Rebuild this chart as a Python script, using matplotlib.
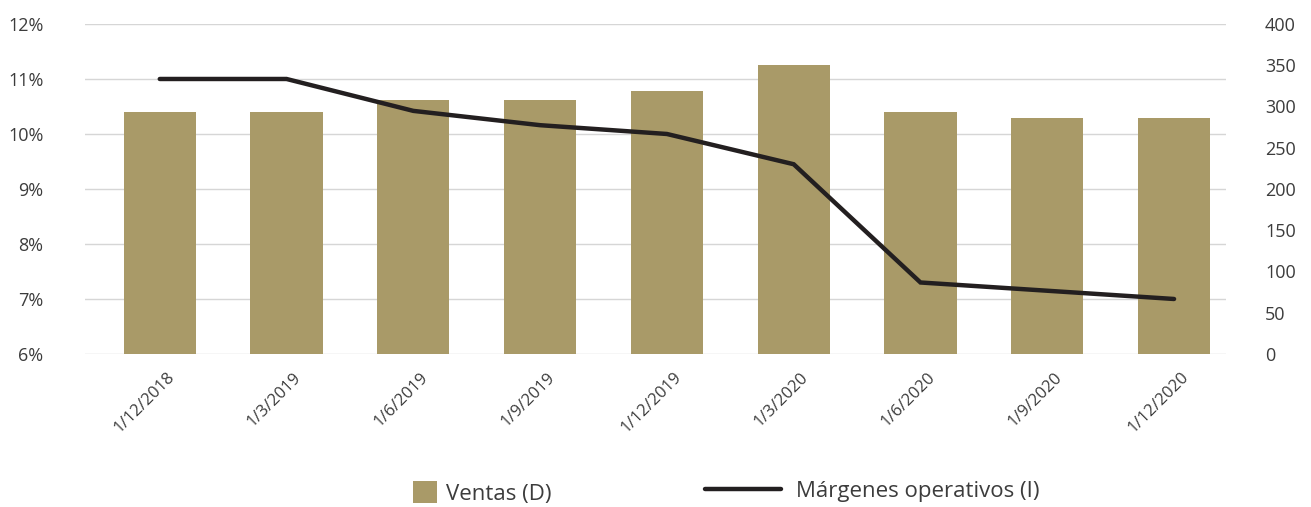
import matplotlib.pyplot as plt
import matplotlib.transforms as mtransforms
from matplotlib.patches import Patch
from matplotlib.lines import Line2D

plt.rcParams['font.family'] = ['Open Sans', 'DejaVu Sans']

fechas = ["1/12/2018", "1/3/2019", "1/6/2019", "1/9/2019", "1/12/2019",
          "1/3/2020", "1/6/2020", "1/9/2020", "1/12/2020"]
ventas = [293, 293, 308, 308, 319, 350, 293, 286, 286]
margenes = [11.0, 11.0, 10.42, 10.16, 10.0, 9.45, 7.3, 7.15, 7.0]

bar_color = "#a99a68"
line_color = "#231f20"
text_color = "#3c3c3c"

fig = plt.figure(figsize=(13.11, 5.07), dpi=100)
# base axes: percent scale + grid, bars and line sit on twins above it
ax = fig.add_axes([0.0648, 0.3018, 0.8704, 0.6509])
axb = ax.twinx()
axl = ax.twinx()
x = list(range(len(fechas)))

ax.set_ylim(6, 12)
ax.set_yticks(range(6, 13))
ax.set_yticklabels([f"{v}%" for v in range(6, 13)])
ax.grid(axis='y', color='#d6d6d6', linewidth=1.0)
ax.set_xlim(-0.59, 8.41)
ax.set_xticks(x)
ax.set_xticklabels(fechas, rotation=45, ha='right', fontsize=12, color=text_color)
ax.tick_params(axis='both', length=0)
ax.tick_params(axis='x', pad=11)
ax.tick_params(axis='y', labelsize=13, labelcolor=text_color, pad=30)
shift = mtransforms.ScaledTranslation(18 / 100, 0, fig.dpi_scale_trans)
for lbl in ax.get_xticklabels():
    lbl.set_transform(lbl.get_transform() + shift)

# ventas, right scale
axb.bar(x, ventas, width=0.57, color=bar_color)
axb.set_ylim(0, 400)
axb.set_yticks(range(0, 401, 50))
axb.tick_params(axis='y', length=0, labelsize=13, labelcolor=text_color, pad=28)
for lbl in axb.get_yticklabels():
    lbl.set_ha('left')

# margenes, same scale as the base axes
axl.plot(x, margenes, color=line_color, linewidth=3.2, solid_capstyle='round',
         solid_joinstyle='miter')
axl.set_ylim(6, 12)
axl.set_yticks([])

for a in (ax, axb, axl):
    for s in a.spines.values():
        s.set_visible(False)

h1 = [Patch(facecolor=bar_color, edgecolor='none')]
fig.legend(h1, ["Ventas (D)"], loc='center left', bbox_to_anchor=(413 / 1311, 1 - 493 / 507),
           frameon=False, fontsize=16, handlelength=1.1, handleheight=1.1,
           handletextpad=0.4, borderpad=0, borderaxespad=0, labelcolor=text_color)
h2 = [Line2D([0], [0], color=line_color, linewidth=3.2, solid_capstyle='round')]
fig.legend(h2, ["Márgenes operativos (I)"], loc='center left',
           bbox_to_anchor=(705 / 1311, 1 - 491 / 507),
           frameon=False, fontsize=16, handlelength=3.4,
           handletextpad=0.7, borderpad=0, borderaxespad=0, labelcolor=text_color)

fig.savefig("out.png", dpi=100, facecolor='white')
